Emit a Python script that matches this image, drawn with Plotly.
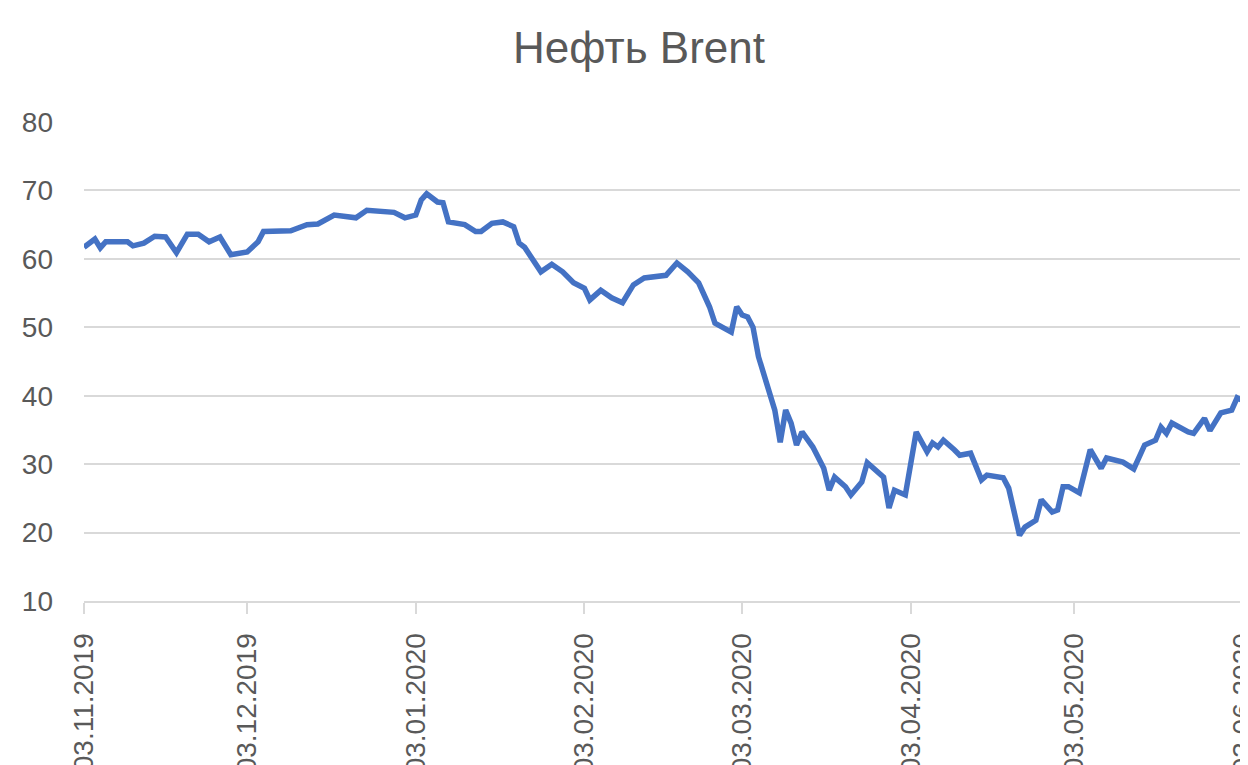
import plotly.graph_objects as go

dates = [
    "2019-11-03", "2019-11-05", "2019-11-06", "2019-11-07", "2019-11-11", "2019-11-12",
    "2019-11-14", "2019-11-16", "2019-11-18", "2019-11-20", "2019-11-22", "2019-11-24",
    "2019-11-26", "2019-11-28", "2019-11-30", "2019-12-03", "2019-12-05", "2019-12-06",
    "2019-12-11", "2019-12-14", "2019-12-16", "2019-12-18", "2019-12-19", "2019-12-23",
    "2019-12-25", "2019-12-30", "2020-01-01", "2020-01-03", "2020-01-04", "2020-01-05",
    "2020-01-07", "2020-01-08", "2020-01-09", "2020-01-12", "2020-01-14", "2020-01-15",
    "2020-01-17", "2020-01-19", "2020-01-21", "2020-01-22", "2020-01-23", "2020-01-26",
    "2020-01-28", "2020-01-30", "2020-02-01", "2020-02-03", "2020-02-04", "2020-02-06",
    "2020-02-08", "2020-02-10", "2020-02-12", "2020-02-14", "2020-02-18", "2020-02-20",
    "2020-02-22", "2020-02-24", "2020-02-26", "2020-02-27", "2020-03-01", "2020-03-02",
    "2020-03-03", "2020-03-04", "2020-03-05", "2020-03-06", "2020-03-09", "2020-03-10",
    "2020-03-11", "2020-03-12", "2020-03-13", "2020-03-14", "2020-03-16", "2020-03-18",
    "2020-03-19", "2020-03-20", "2020-03-22", "2020-03-23", "2020-03-25", "2020-03-26",
    "2020-03-29", "2020-03-30", "2020-03-31", "2020-04-02", "2020-04-04", "2020-04-06",
    "2020-04-07", "2020-04-08", "2020-04-09", "2020-04-11", "2020-04-12", "2020-04-14",
    "2020-04-16", "2020-04-17", "2020-04-20", "2020-04-21", "2020-04-23", "2020-04-24",
    "2020-04-26", "2020-04-27", "2020-04-29", "2020-04-30", "2020-05-01", "2020-05-02",
    "2020-05-04", "2020-05-06", "2020-05-08", "2020-05-09", "2020-05-12", "2020-05-14",
    "2020-05-16", "2020-05-18", "2020-05-19", "2020-05-20", "2020-05-21", "2020-05-24",
    "2020-05-25", "2020-05-27", "2020-05-28", "2020-05-30", "2020-06-01", "2020-06-02",
    "2020-06-04",
]

brent = [
    61.7, 62.9, 61.6, 62.5, 62.5, 61.9,
    62.3, 63.3, 63.2, 60.9, 63.6, 63.6,
    62.5, 63.2, 60.6, 61.0, 62.5, 64.0,
    64.1, 65.0, 65.1, 66.0, 66.4, 66.0,
    67.1, 66.8, 66.0, 66.4, 68.6, 69.5,
    68.3, 68.2, 65.4, 65.0, 64.0, 64.0,
    65.2, 65.4, 64.7, 62.3, 61.7, 58.1,
    59.2, 58.1, 56.5, 55.7, 54.0, 55.4,
    54.3, 53.6, 56.2, 57.2, 57.6, 59.4,
    58.1, 56.5, 53.0, 50.6, 49.3, 53.0,
    51.8, 51.5, 50.0, 45.7, 37.9, 33.2,
    37.9, 36.0, 32.8, 34.7, 32.5, 29.4,
    26.2, 28.1, 26.7, 25.5, 27.4, 30.2,
    28.1, 23.6, 26.2, 25.5, 34.7, 31.8,
    33.1, 32.5, 33.5, 32.1, 31.3, 31.6,
    27.7, 28.4, 28.0, 26.5, 19.6, 20.8,
    21.8, 24.8, 23.0, 23.3, 26.7, 26.7,
    25.8, 32.1, 29.4, 30.9, 30.3, 29.3,
    32.8, 33.5, 35.4, 34.5, 36.0, 34.7,
    34.5, 36.7, 34.9, 37.5, 37.9, 39.7,
    38.9,
]

tick_dates = ["2019-11-03", "2019-12-03", "2020-01-03", "2020-02-03",
              "2020-03-03", "2020-04-03", "2020-05-03", "2020-06-03"]
y_ticks = [10, 20, 30, 40, 50, 60, 70, 80]

title_text = "Нефть Brent"
FONT = "Liberation Sans, Arial, sans-serif"
TXT = "#595959"
GRID = "#D9D9D9"

fig = go.Figure()
fig.add_trace(go.Scatter(
    x=dates, y=brent, mode="lines",
    line=dict(color="#4472C4", width=5.5),
    showlegend=False, hoverinfo="x+y",
))

# page body has an 8px margin, so the figure is drawn 8px right/down
fig.update_layout(
    width=1240, height=757,
    paper_bgcolor="white", plot_bgcolor="white",
    margin=dict(l=76, r=0, t=114, b=164),
    title=dict(text=title_text, x=631 / 1240, xref="container", xanchor="center",
               y=1 - 40 / 757, yref="container", yanchor="middle",
               font=dict(family=FONT, size=44, color=TXT)),
    font=dict(family=FONT, color=TXT),
)

fig.update_xaxes(
    type="date", range=["2019-11-03", "2020-06-04"],
    tickvals=tick_dates, tickformat="%d.%m.%Y", tickangle=-90,
    tickfont=dict(family=FONT, size=28, color=TXT),
    showgrid=False, showline=True, linecolor=GRID, linewidth=2,
    ticks="outside", ticklen=11, tickcolor=GRID, tickwidth=2,
    ticklabelstandoff=8, automargin=False, zeroline=False,
    ticklabeloverflow="allow",
)

fig.update_yaxes(
    range=[10, 80], tickvals=y_ticks,
    tickfont=dict(family=FONT, size=28, color=TXT),
    showgrid=True, gridcolor=GRID, gridwidth=2,
    showline=False, zeroline=False, ticks="",
    ticklabelstandoff=30, automargin=False,
)

fig.write_html("out.html")
